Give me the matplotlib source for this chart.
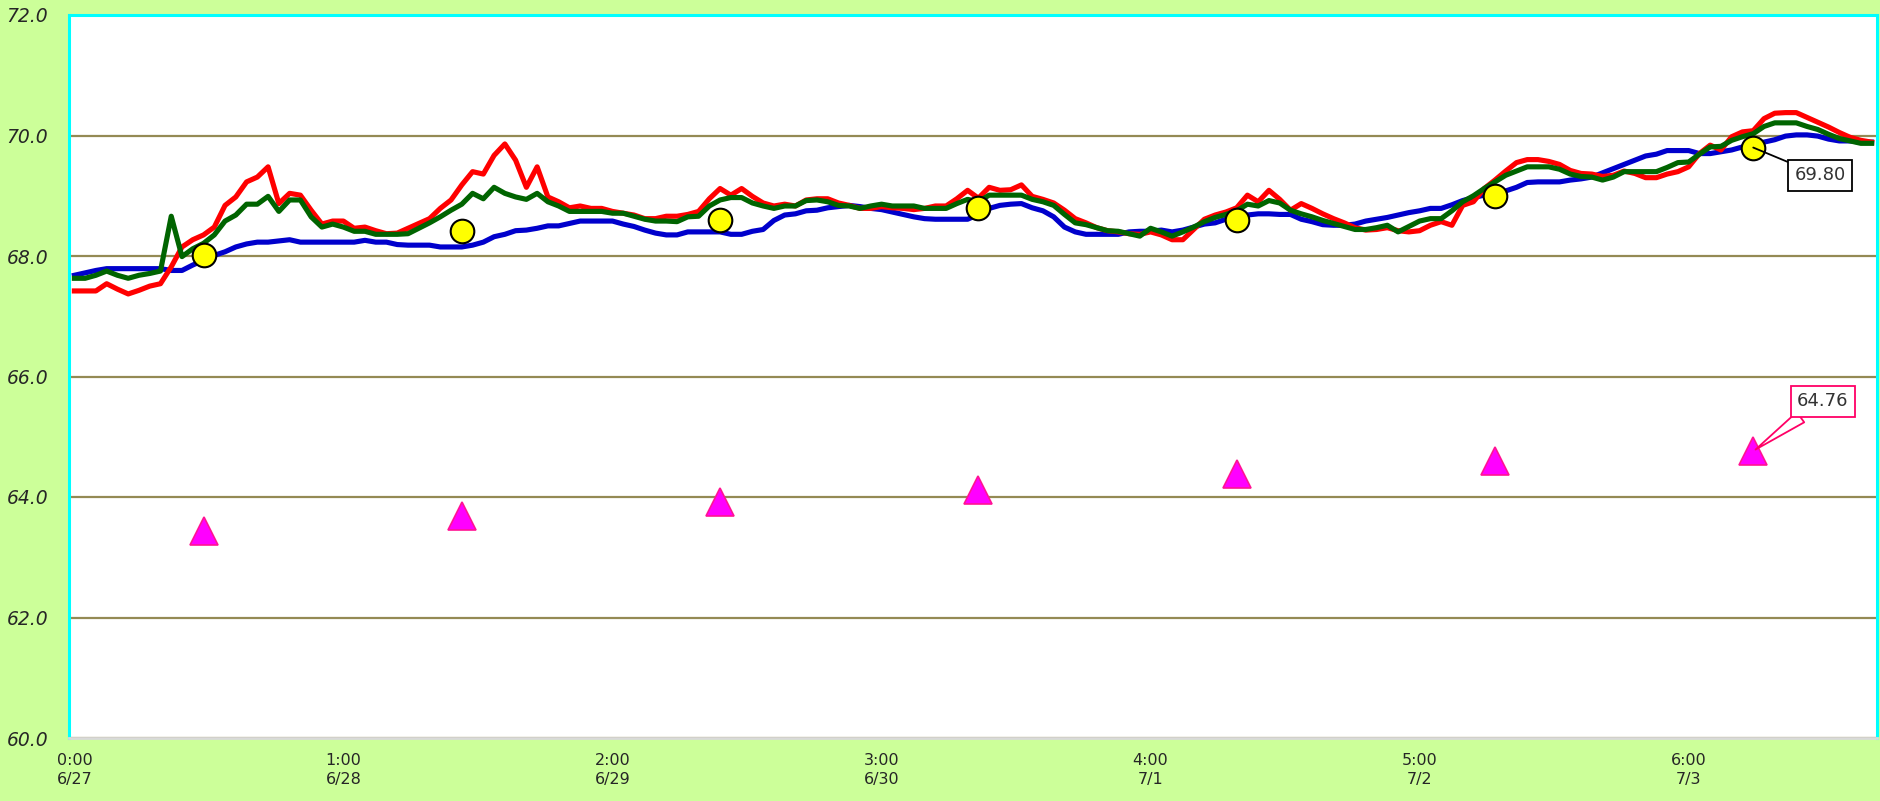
import numpy as np
import matplotlib.pyplot as plt

# hourly readings, 7 days x 24 h
blue_vals = [
    67.68, 67.72, 67.76, 67.79, 67.79, 67.79, 67.79, 67.79, 67.79, 67.76,
    67.76, 67.85, 67.93, 68.01, 68.07, 68.15, 68.20, 68.23, 68.23, 68.25,
    68.27, 68.23, 68.23, 68.23, 68.23, 68.23, 68.23, 68.26, 68.23, 68.23,
    68.19, 68.18, 68.18, 68.18, 68.15, 68.15, 68.15, 68.18, 68.23, 68.32,
    68.36, 68.42, 68.43, 68.46, 68.50, 68.50, 68.54, 68.58, 68.58, 68.58,
    68.58, 68.53, 68.49, 68.43, 68.38, 68.35, 68.35, 68.40, 68.40, 68.40,
    68.40, 68.36, 68.36, 68.41, 68.44, 68.59, 68.68, 68.70, 68.75, 68.76,
    68.80, 68.82, 68.84, 68.82, 68.79, 68.77, 68.73, 68.69, 68.65, 68.62,
    68.61, 68.61, 68.61, 68.61, 68.69, 68.79, 68.84, 68.86, 68.87, 68.80,
    68.75, 68.65, 68.48, 68.40, 68.36, 68.36, 68.36, 68.36, 68.40, 68.41,
    68.41, 68.43, 68.40, 68.43, 68.48, 68.53, 68.55, 68.61, 68.66, 68.68,
    68.70, 68.70, 68.69, 68.69, 68.61, 68.57, 68.52, 68.51, 68.51, 68.53,
    68.58, 68.61, 68.64, 68.68, 68.72, 68.75, 68.79, 68.79, 68.85, 68.92,
    68.97, 69.01, 69.05, 69.08, 69.14, 69.22, 69.23, 69.23, 69.23, 69.26,
    69.28, 69.31, 69.38, 69.45, 69.52, 69.59, 69.66, 69.69, 69.75, 69.75,
    69.75, 69.70, 69.70, 69.73, 69.76, 69.81, 69.85, 69.89, 69.93, 69.99,
    70.01, 70.01, 69.99, 69.94, 69.91, 69.91, 69.89, 69.89]

red_vals = [
    67.42, 67.42, 67.42, 67.54, 67.45, 67.37, 67.43, 67.50, 67.54, 67.82,
    68.15, 68.27, 68.35, 68.48, 68.84, 68.98, 69.23, 69.31, 69.48, 68.87,
    69.04, 69.01, 68.76, 68.53, 68.58, 68.58, 68.46, 68.48, 68.42, 68.37,
    68.38, 68.46, 68.54, 68.62, 68.79, 68.93, 69.18, 69.40, 69.36, 69.67,
    69.86, 69.59, 69.14, 69.48, 68.98, 68.90, 68.80, 68.83, 68.79, 68.79,
    68.74, 68.71, 68.68, 68.62, 68.62, 68.66, 68.66, 68.69, 68.74, 68.95,
    69.12, 69.01, 69.12, 68.99, 68.88, 68.83, 68.86, 68.83, 68.93, 68.95,
    68.95, 68.88, 68.84, 68.79, 68.79, 68.82, 68.80, 68.79, 68.77, 68.79,
    68.83, 68.83, 68.95, 69.09, 68.96, 69.14, 69.09, 69.10, 69.18, 68.99,
    68.94, 68.88, 68.76, 68.62, 68.55, 68.47, 68.42, 68.40, 68.37, 68.36,
    68.40, 68.35, 68.27, 68.27, 68.44, 68.61, 68.68, 68.73, 68.80, 69.01,
    68.90, 69.09, 68.94, 68.76, 68.87, 68.79, 68.70, 68.62, 68.55, 68.47,
    68.43, 68.44, 68.47, 68.42, 68.40, 68.42, 68.51, 68.57, 68.51, 68.84,
    68.90, 69.12, 69.26, 69.41, 69.55, 69.60, 69.60, 69.57, 69.52, 69.42,
    69.37, 69.36, 69.32, 69.34, 69.41, 69.37, 69.30, 69.30, 69.36, 69.40,
    69.48, 69.70, 69.84, 69.76, 69.98, 70.06, 70.08, 70.28, 70.37, 70.38,
    70.38, 70.30, 70.22, 70.14, 70.05, 69.97, 69.92, 69.89]

green_vals = [
    67.63, 67.63, 67.68, 67.75, 67.68, 67.63, 67.68, 67.71, 67.75, 68.66,
    67.99, 68.12, 68.21, 68.35, 68.58, 68.68, 68.86, 68.86, 68.99, 68.74,
    68.93, 68.93, 68.65, 68.48, 68.53, 68.48, 68.41, 68.41, 68.36, 68.36,
    68.36, 68.37, 68.46, 68.55, 68.65, 68.76, 68.86, 69.04, 68.95, 69.14,
    69.04, 68.98, 68.94, 69.04, 68.90, 68.83, 68.74, 68.74, 68.74, 68.74,
    68.71, 68.71, 68.66, 68.61, 68.58, 68.58, 68.57, 68.65, 68.66, 68.83,
    68.93, 68.97, 68.97, 68.88, 68.83, 68.79, 68.83, 68.83, 68.92, 68.93,
    68.90, 68.84, 68.83, 68.79, 68.83, 68.86, 68.83, 68.83, 68.83, 68.79,
    68.79, 68.79, 68.87, 68.94, 68.90, 69.01, 69.01, 69.01, 69.01, 68.94,
    68.90, 68.84, 68.69, 68.55, 68.52, 68.47, 68.42, 68.41, 68.37, 68.33,
    68.46, 68.40, 68.33, 68.40, 68.48, 68.57, 68.64, 68.69, 68.75, 68.86,
    68.83, 68.92, 68.88, 68.76, 68.70, 68.65, 68.59, 68.54, 68.49, 68.44,
    68.44, 68.47, 68.51, 68.40, 68.49, 68.58, 68.62, 68.62, 68.75, 68.90,
    69.00, 69.12, 69.23, 69.34, 69.41, 69.48, 69.48, 69.48, 69.44, 69.36,
    69.32, 69.31, 69.26, 69.31, 69.40, 69.40, 69.40, 69.40, 69.47, 69.55,
    69.56, 69.69, 69.81, 69.82, 69.92, 69.98, 70.03, 70.15, 70.21, 70.21,
    70.21, 70.15, 70.10, 70.02, 69.95, 69.91, 69.87, 69.87]

# one value per day, at noon
daily_circle = [68.01, 68.41, 68.60, 68.80, 68.60, 69.00, 69.80]
daily_triangle = [63.44, 63.68, 63.92, 64.12, 64.38, 64.60, 64.76]

tick_hours = ["0:00", "1:00", "2:00", "3:00", "4:00", "5:00", "6:00"]
tick_dates = ["6/27", "6/28", "6/29", "6/30", "7/1", "7/2", "7/3"]

x = np.arange(len(blue_vals))
noon_idx = np.arange(len(daily_circle)) * 24 + 12
tick_idx = np.arange(len(tick_hours)) * 25

fig = plt.figure(figsize=(18.8, 8.01), dpi=100, facecolor="#CCFF99")
ax = fig.add_axes([69 / 1880, 1 - 738 / 801, (1877 - 69) / 1880, (738 - 15) / 801])
ax.set_facecolor("white")

ax.plot(x, blue_vals, color="#0000CC", lw=3.7, zorder=3)
ax.plot(x, red_vals, color="#FF0000", lw=3.7, zorder=4)
ax.plot(x, green_vals, color="#006400", lw=3.7, zorder=5)

ax.plot(noon_idx, daily_circle, "o", ms=17, mfc="#FFFF00", mec="black", mew=1.5,
        ls="none", zorder=6)
ax.plot(noon_idx, daily_triangle, "^", ms=20, mfc="#FF00FF", mec="#FF1493", mew=1.2,
        ls="none", zorder=6)

# callouts on the last day
ax.annotate(f"{daily_circle[-1]:.2f}", xy=(noon_idx[-1], daily_circle[-1]),
            xytext=(48, -20), textcoords="offset points", ha="center", va="center",
            fontsize=13, color="#333333", zorder=7,
            bbox=dict(boxstyle="square,pad=0.35", fc="white", ec="black", lw=1.3),
            arrowprops=dict(arrowstyle="-", color="black", lw=1.3, shrinkA=0, shrinkB=0))
ax.annotate(f"{daily_triangle[-1]:.2f}", xy=(noon_idx[-1], daily_triangle[-1]),
            xytext=(50, 36), textcoords="offset points", ha="center", va="center",
            fontsize=13, color="#333333", zorder=7,
            bbox=dict(boxstyle="square,pad=0.35", fc="white", ec="#FF0066", lw=1.3),
            arrowprops=dict(arrowstyle="wedge,tail_width=0.7", fc="white", ec="#FF0066",
                            lw=1.3, shrinkA=0, shrinkB=2))

ax.set_xlim(-0.5, len(x) - 0.5)
ax.set_ylim(60, 72)
ax.set_yticks(np.arange(60, 72.1, 2))
ax.set_yticklabels([f"{v:.1f}" for v in np.arange(60, 72.1, 2)],
                   fontsize=13.5, fontstyle="italic", color="#262626")
ax.set_xticks(tick_idx)
ax.set_xticklabels([f"{h}\n{d}" for h, d in zip(tick_hours, tick_dates)],
                   fontsize=11.5, color="#262626", linespacing=1.35)
ax.tick_params(axis="y", length=0, pad=15)
ax.tick_params(axis="x", length=0, pad=11)

ax.yaxis.grid(True, color="#948A54", lw=1.6)
ax.set_axisbelow(True)
for side in ["left", "right", "top"]:
    ax.spines[side].set_color("#00FFFF")
    ax.spines[side].set_linewidth(2.2)
ax.spines["bottom"].set_color("#D9D9D9")
ax.spines["bottom"].set_linewidth(2)

fig.savefig("out.png", dpi=100, facecolor=fig.get_facecolor())
